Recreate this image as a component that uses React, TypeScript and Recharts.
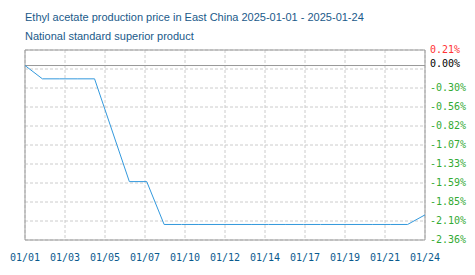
import {
  CartesianGrid,
  Line,
  LineChart,
  ReferenceArea,
  ReferenceLine,
  XAxis,
  YAxis,
} from "recharts";

// calendar day offset from 2025-01-01, change vs. first day in %
const days = [0, 1, 2, 3, 4, 6, 7, 8, 9, 10, 13, 14, 15, 16, 17, 20, 21, 22, 23];
const changes = [
  0, -0.18, -0.18, -0.18, -0.18, -1.57, -1.57, -2.15, -2.15, -2.15, -2.15,
  -2.15, -2.15, -2.15, -2.15, -2.15, -2.15, -2.15, -2.02,
];

const xTickLabels = [
  "01/01", "01/03", "01/05", "01/07", "01/10", "01/12",
  "01/14", "01/17", "01/19", "01/21", "01/24",
];
const yTickLabels = [
  "0.21%", "", "-0.30%", "-0.56%", "-0.82%", "-1.07%",
  "-1.33%", "-1.59%", "-1.85%", "-2.10%", "-2.36%",
];

const Y_MIN = -2.36;
const Y_MAX = 0.21;
const X_MAX = 23;

const data = days.map((d, i) => ({ day: d, value: changes[i] }));
const xTicks = xTickLabels.map((_, i) => (X_MAX * i) / (xTickLabels.length - 1));
const yTicks = yTickLabels.map(
  (_, i) => Y_MAX - ((Y_MAX - Y_MIN) * i) / (yTickLabels.length - 1)
);

const MONO = "'DejaVu Sans Mono', 'Liberation Mono', monospace";

function YTick(props: any) {
  const { x, y, index } = props;
  const label = yTickLabels[index];
  if (!label) return <g />;
  const color = index === 0 ? "#ff3333" : "#33aa33";
  return (
    <text x={x} y={y} dy={2.5} fill={color} fontSize={10} fontFamily={MONO} textAnchor="start">
      {label}
    </text>
  );
}

function ZeroLabel(props: any) {
  const { viewBox } = props;
  if (!viewBox) return null;
  return (
    <text
      x={viewBox.x + viewBox.width + 5}
      y={viewBox.y}
      dy={1.5}
      fill="#000000"
      fontSize={10}
      fontFamily={MONO}
      textAnchor="start"
    >
      0.00%
    </text>
  );
}

const titleStyle = {
  position: "absolute" as const,
  left: 25,
  fontFamily: "Arial, 'Liberation Sans', sans-serif",
  fontSize: 11,
  lineHeight: "13px",
  color: "#1a5a8a",
  whiteSpace: "nowrap" as const,
};

export default function App() {
  return (
    <div
      style={{
        position: "absolute",
        left: 0,
        top: 0,
        width: 475,
        height: 275,
        background: "#fff",
      }}
    >
      <div style={{ ...titleStyle, top: 11 }}>
        Ethyl acetate production price in East China 2025-01-01 - 2025-01-24
      </div>
      <div style={{ ...titleStyle, top: 30 }}>National standard superior product</div>
      <LineChart
        width={475}
        height={275}
        data={data}
        margin={{ top: 50, right: 0, left: 25, bottom: 0 }}
      >
        <CartesianGrid stroke="#cccccc" strokeDasharray="3 2" />
        <XAxis
          dataKey="day"
          type="number"
          domain={[0, X_MAX]}
          ticks={xTicks}
          interval={0}
          axisLine={false}
          tickLine={false}
          tickSize={0}
          tickMargin={14}
          height={35}
          tick={{ fill: "#0a5a8e", fontSize: 10, fontFamily: MONO }}
          tickFormatter={(_v: number, i: number) => xTickLabels[i]}
        />
        <YAxis
          orientation="right"
          type="number"
          domain={[Y_MIN, Y_MAX]}
          ticks={yTicks}
          interval={0}
          width={50}
          axisLine={false}
          tickLine={false}
          tickSize={0}
          tickMargin={5}
          tick={<YTick />}
        />
        <ReferenceArea
          x1={0}
          x2={X_MAX}
          y1={Y_MIN}
          y2={Y_MAX}
          fill="none"
          stroke="#999999"
          strokeWidth={1}
        />
        <ReferenceLine
          y={0}
          stroke="#999999"
          strokeWidth={1}
          label={<ZeroLabel />}
        />
        <Line
          type="linear"
          dataKey="value"
          stroke="#3399dd"
          strokeWidth={1}
          dot={false}
          activeDot={false}
          isAnimationActive={false}
        />
      </LineChart>
    </div>
  );
}
